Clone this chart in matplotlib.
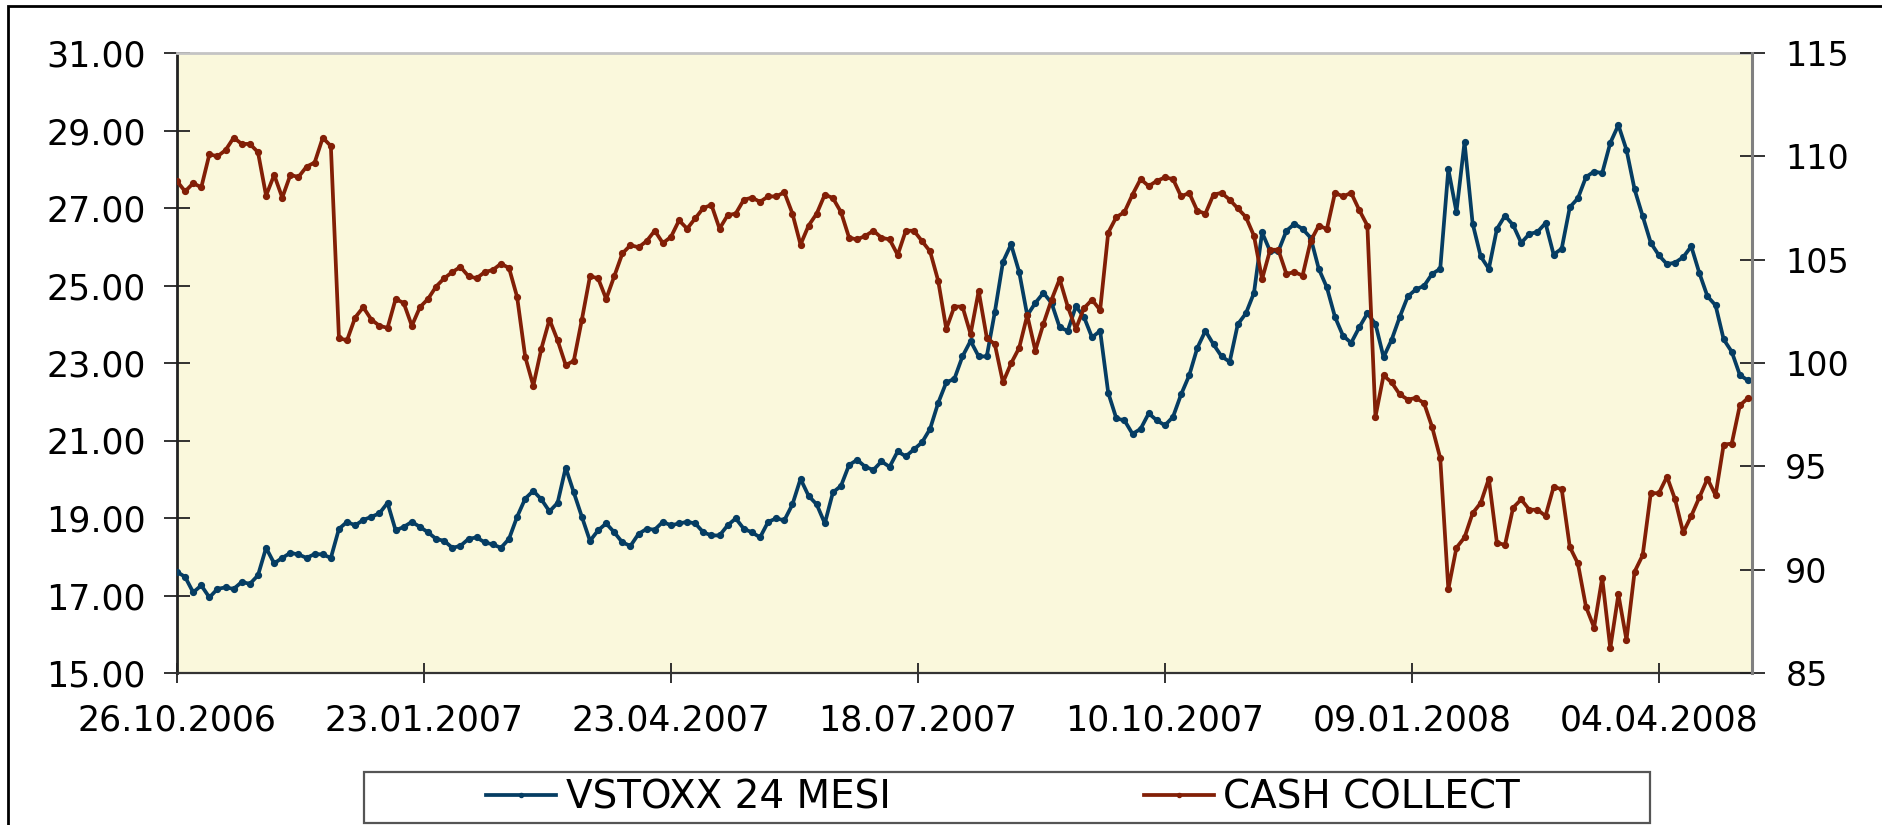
import numpy as np
import matplotlib
matplotlib.use("Agg")
import matplotlib.pyplot as plt
from matplotlib.patches import Rectangle
from matplotlib.ticker import FormatStrFormatter

# ---- data (sampled every 2 trading days) ----
day_step = 2
tick_interval = 61  # trading days between category labels
date_labels = ["26.10.2006", "23.01.2007", "23.04.2007", "18.07.2007",
               "10.10.2007", "09.01.2008", "04.04.2008"]

vstoxx_24m = [
    17.61, 17.48, 17.08, 17.26, 16.95, 17.17, 17.21, 17.17, 17.35, 17.30, 17.52,
    18.23, 17.83, 17.97, 18.10, 18.06, 17.97, 18.07, 18.06, 17.97, 18.72, 18.90,
    18.81, 18.95, 19.03, 19.12, 19.39, 18.68, 18.77, 18.90, 18.77, 18.63, 18.46,
    18.41, 18.23, 18.28, 18.46, 18.50, 18.37, 18.32, 18.23, 18.46, 19.03, 19.50,
    19.70, 19.48, 19.17, 19.39, 20.30, 19.66, 19.03, 18.41, 18.68, 18.86, 18.63,
    18.37, 18.28, 18.59, 18.72, 18.70, 18.90, 18.81, 18.86, 18.90, 18.86, 18.63,
    18.55, 18.55, 18.81, 18.99, 18.72, 18.63, 18.50, 18.90, 18.99, 18.94, 19.35,
    20.01, 19.57, 19.35, 18.86, 19.66, 19.83, 20.37, 20.50, 20.32, 20.24, 20.46,
    20.32, 20.72, 20.59, 20.77, 20.95, 21.30, 21.97, 22.50, 22.59, 23.17, 23.57,
    23.17, 23.17, 24.32, 25.61, 26.06, 25.35, 24.23, 24.55, 24.81, 24.55, 23.92,
    23.83, 24.46, 24.19, 23.66, 23.83, 22.23, 21.57, 21.52, 21.17, 21.30, 21.70,
    21.52, 21.39, 21.61, 22.19, 22.68, 23.39, 23.83, 23.48, 23.17, 23.03, 24.00,
    24.28, 24.81, 26.37, 25.88, 25.88, 26.41, 26.59, 26.46, 26.23, 25.43, 24.95,
    24.19, 23.70, 23.52, 23.92, 24.28, 24.01, 23.15, 23.60, 24.19, 24.72, 24.90,
    24.99, 25.30, 25.43, 28.00, 26.90, 28.70, 26.60, 25.75, 25.43, 26.46,
    26.80, 26.56, 26.10, 26.33, 26.38, 26.61, 25.80, 25.95, 27.02, 27.25, 27.80,
    27.94, 27.90, 28.68, 29.14, 28.50, 27.48, 26.79, 26.10, 25.78, 25.55, 25.59,
    25.73, 26.01, 25.32, 24.72, 24.49, 23.61, 23.29, 22.69, 22.55,
]

cash_collect = [
    108.8, 108.3, 108.7, 108.5, 110.1, 110.0, 110.3, 110.9, 110.6, 110.6, 110.2,
    108.1, 109.1, 108.0, 109.1, 109.0, 109.5, 109.7, 110.9, 110.5, 101.2, 101.1,
    102.2, 102.7, 102.1, 101.8, 101.7, 103.1, 102.9, 101.8, 102.7, 103.1, 103.7,
    104.1, 104.4, 104.65, 104.2, 104.1, 104.4, 104.5, 104.8, 104.6, 103.2, 100.3,
    98.9, 100.7, 102.1, 101.1, 99.9, 100.1, 102.1, 104.2, 104.1, 103.1, 104.2,
    105.3, 105.7, 105.6, 105.9, 106.4, 105.8, 106.1, 106.9, 106.5, 107.0, 107.5,
    107.65, 106.5, 107.15, 107.23, 107.9, 108.0, 107.8, 108.06, 108.06, 108.26,
    107.23, 105.73, 106.65, 107.23, 108.15, 107.98, 107.3, 106.06, 105.98, 106.15,
    106.4, 106.06, 105.98, 105.23, 106.4, 106.4, 105.9, 105.4, 103.98, 101.65,
    102.73, 102.73, 101.4,
    103.48, 101.23, 100.9, 99.06, 99.98, 100.73, 102.31, 100.6, 101.9, 103.06,
    104.06, 102.73, 101.65, 102.65, 103.06, 102.56, 106.31, 107.06, 107.3, 108.15,
    108.9, 108.56, 108.81, 108.98, 108.9, 108.06, 108.23, 107.36, 107.23, 108.15,
    108.23, 107.9, 107.48,
    107.06, 106.15, 104.06, 105.48, 105.48, 104.31, 104.4, 104.23, 105.9, 106.65,
    106.48, 108.23, 108.06, 108.23, 107.4, 106.65, 97.4, 99.4, 99.06, 98.48,
    98.23, 98.31, 98.06, 96.9, 95.4, 89.06, 91.06, 91.56, 92.73, 93.23, 94.4, 91.3,
    91.2, 93.0, 93.4, 92.9, 92.9, 92.6, 94.0, 93.9, 91.1, 90.3, 88.2, 87.2, 89.6,
    86.2, 88.8, 86.6, 89.9, 90.7, 93.7, 93.7, 94.5, 93.4, 91.8, 92.6, 93.5, 94.4,
    93.6, 96.05, 96.1, 97.95, 98.3,
]

series_names = ["VSTOXX 24 MESI", "CASH COLLECT"]

# ---- style ----
BLUE = "#053D63"
RED = "#821F06"
BG = "#FAF8DC"

W, H = 1882, 825
fig = plt.figure(figsize=(W / 100, H / 100), dpi=100)
fig.patch.set_facecolor("white")

left, right, top, bottom = 177, 1752, 53, 673
ax = fig.add_axes([left / W, 1 - bottom / H, (right - left) / W, (bottom - top) / H])
ax.set_facecolor(BG)

x_b = np.arange(len(vstoxx_24m)) * day_step
x_r = np.arange(len(cash_collect)) * day_step
n_days = x_b[-1] + 1

l1, = ax.plot(x_b, vstoxx_24m, color=BLUE, lw=2.7, marker="o", ms=4.2,
              mec=BLUE, mfc=BLUE, label=series_names[0], zorder=3)
ax.set_ylim(15, 31)
ax.set_yticks(np.arange(15, 31.01, 2))
ax.yaxis.set_major_formatter(FormatStrFormatter("%.2f"))
ax.set_xlim(0, n_days)
ax.set_xticks(np.arange(len(date_labels)) * tick_interval)
ax.set_xticklabels(date_labels)

ax2 = ax.twinx()
l2, = ax2.plot(x_r, cash_collect, color=RED, lw=2.7, marker="o", ms=4.2,
               mec=RED, mfc=RED, label=series_names[1], zorder=3)
ax2.set_ylim(85, 115)
ax2.set_yticks(np.arange(85, 115.1, 5))
ax2.set_xlim(0, n_days)

# spines
ax.spines["top"].set_color("#C4C4C4")
ax.spines["top"].set_linewidth(2)
ax.spines["left"].set_color("#222222")
ax.spines["left"].set_linewidth(2)
ax.spines["bottom"].set_color("#333333")
ax.spines["bottom"].set_linewidth(1.6)
ax.spines["right"].set_visible(False)
for s in ("top", "left", "bottom"):
    ax2.spines[s].set_visible(False)
ax2.spines["right"].set_color("#808080")
ax2.spines["right"].set_linewidth(2.2)

ax.tick_params(axis="y", direction="inout", length=19, width=1.3, color="#222222",
               labelsize=25, pad=13)
ax.tick_params(axis="x", direction="inout", length=14, width=1.3, color="#222222",
               labelsize=25, pad=15)
ax2.tick_params(axis="y", direction="inout", length=18, width=1.3, color="#222222",
                labelsize=24, pad=15)

# legend
leg_x0, leg_x1, leg_y0, leg_y1 = 364, 1650, 772, 823
fig.add_artist(Rectangle((leg_x0 / W, 1 - leg_y1 / H), (leg_x1 - leg_x0) / W,
                         (leg_y1 - leg_y0) / H, transform=fig.transFigure,
                         fill=False, ec="#555555", lw=1.6))
fig.legend([l1, l2], series_names, loc="center",
           bbox_to_anchor=((leg_x0 + leg_x1) / 2 / W - 0.002, 1 - (leg_y0 + leg_y1) / 2 / H),
           ncol=2, frameon=False, fontsize=28, handlelength=1.8,
           handletextpad=0.25, columnspacing=6.5, numpoints=1, markerscale=0.7)

# figure border (left and top edges visible)
fig.add_artist(Rectangle((8 / W, -0.1), 1.2, (1 - 6 / H) + 0.1,
                         transform=fig.transFigure, fill=False, ec="black", lw=2))

fig.savefig("out.png", dpi=100)
